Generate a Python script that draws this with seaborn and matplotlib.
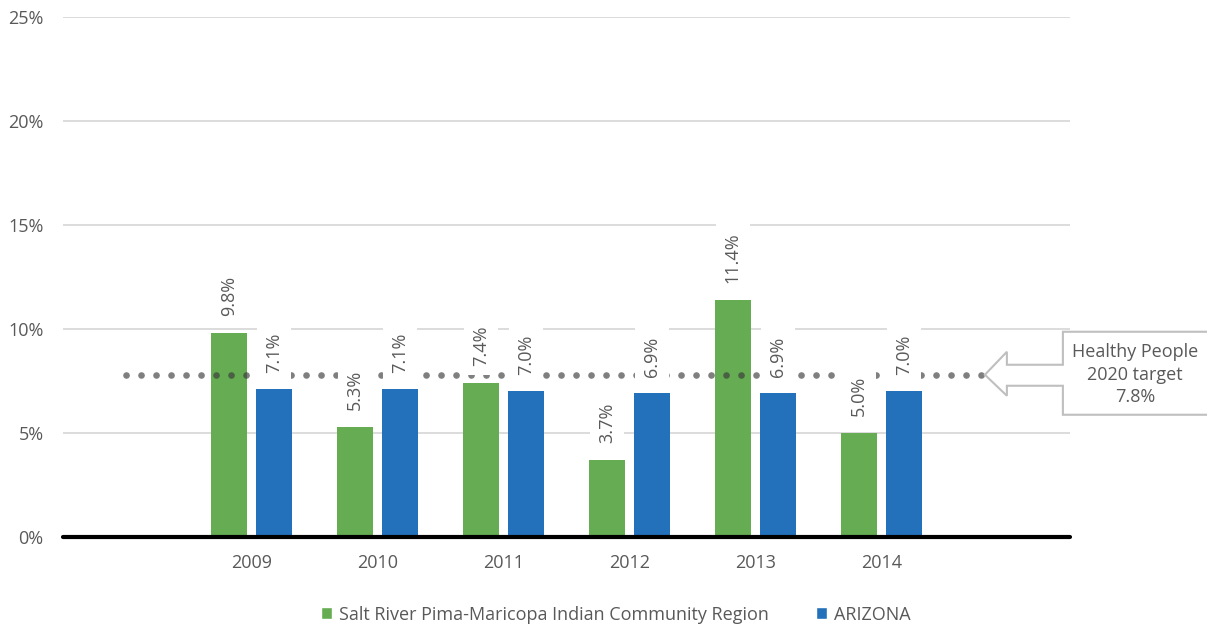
import numpy as np
import pandas as pd
import matplotlib
matplotlib.use("Agg")
import matplotlib.pyplot as plt
from matplotlib.patches import Patch, Polygon
from matplotlib.transforms import IdentityTransform
import seaborn as sns

# data
years = ["2009", "2010", "2011", "2012", "2013", "2014"]
salt_river = [9.8, 5.3, 7.4, 3.7, 11.4, 5.0]
arizona = [7.1, 7.1, 7.0, 6.9, 6.9, 7.0]
regions = ["Salt River Pima-Maricopa Indian Community Region", "ARIZONA"]
target = 7.8
target_text = "Healthy People\n2020 target\n7.8%"

green = "#65AC52"
blue = "#2271BA"
txt = "#595959"

df = pd.DataFrame({
    "year": years * 2,
    "value": salt_river + arizona,
    "region": [regions[0]] * len(years) + [regions[1]] * len(years),
})

sns.set_theme(style="white")
plt.rcParams["font.family"] = ["Open Sans", "DejaVu Sans"]

fig = plt.figure(figsize=(12.07, 6.31), dpi=100)
ax = fig.add_axes([63 / 1207, 1 - 537 / 631, 1007 / 1207, 520 / 631])

sns.barplot(data=df, x="year", y="value", hue="region", order=years,
            hue_order=regions, palette=[green, blue], width=0.714, gap=0.2,
            saturation=1, linewidth=0, legend=False, ax=ax, zorder=2)

ax.set_xlim(-1.5, 6.5)
ax.set_ylim(0, 25)
ax.set_yticks(np.arange(0, 26, 5))
ax.set_yticklabels([f"{v}%" for v in range(0, 26, 5)])
ax.set_xlabel("")
ax.set_ylabel("")
ax.tick_params(axis="both", length=0, labelsize=13, labelcolor=txt)
ax.tick_params(axis="y", pad=14)
ax.tick_params(axis="x", pad=12)
for s in ax.spines.values():
    s.set_visible(False)
ax.yaxis.grid(True, color="#d9d9d9", lw=1.3, zorder=0)
ax.set_axisbelow(True)
ax.axhline(0, color="black", lw=3, zorder=5, clip_on=False)

# target dotted line
x0, x1 = ax.get_xlim()
line_end = x1 - 0.7
ax.plot([x0 + 0.5, line_end], [target, target], color="#3a3a3a", alpha=0.65,
        lw=4.8, linestyle=(0, (0.01, 2.24)), dash_capstyle="round", zorder=3)

# data labels
for cont, vals in zip(ax.containers, [salt_river, arizona]):
    ax.bar_label(cont, labels=[f"{v:.1f}%" for v in vals], padding=12,
                 rotation=90, fontsize=13, color=txt, zorder=6,
                 bbox=dict(boxstyle="square,pad=0.45", fc="white", ec="none"))

# callout arrow box
tx, ty = ax.transData.transform((line_end, target))
tx += 3
shape = [(0, 0), (22, 23), (22, 10), (78, 10), (78, 43), (240, 43),
         (240, -40), (78, -40), (78, -11), (22, -11), (22, -21)]
pts = [(tx + dx, ty + dy) for dx, dy in shape]
fig.add_artist(Polygon(pts, closed=True, transform=IdentityTransform(),
                       fc="white", ec="#bfbfbf", lw=1.5))
fig.text(tx + 150, ty, target_text, transform=IdentityTransform(),
         ha="center", va="center", multialignment="center",
         fontsize=13, color=txt, linespacing=1.33)

handles = [Patch(facecolor=green), Patch(facecolor=blue)]
fig.legend(handles, regions, loc="center", bbox_to_anchor=(0.51, 0.026),
           ncol=2, frameon=False, handlelength=0.6, handleheight=0.6,
           handletextpad=0.4, columnspacing=2.6, fontsize=13,
           labelcolor=txt)

fig.savefig("out.png", dpi=100)
